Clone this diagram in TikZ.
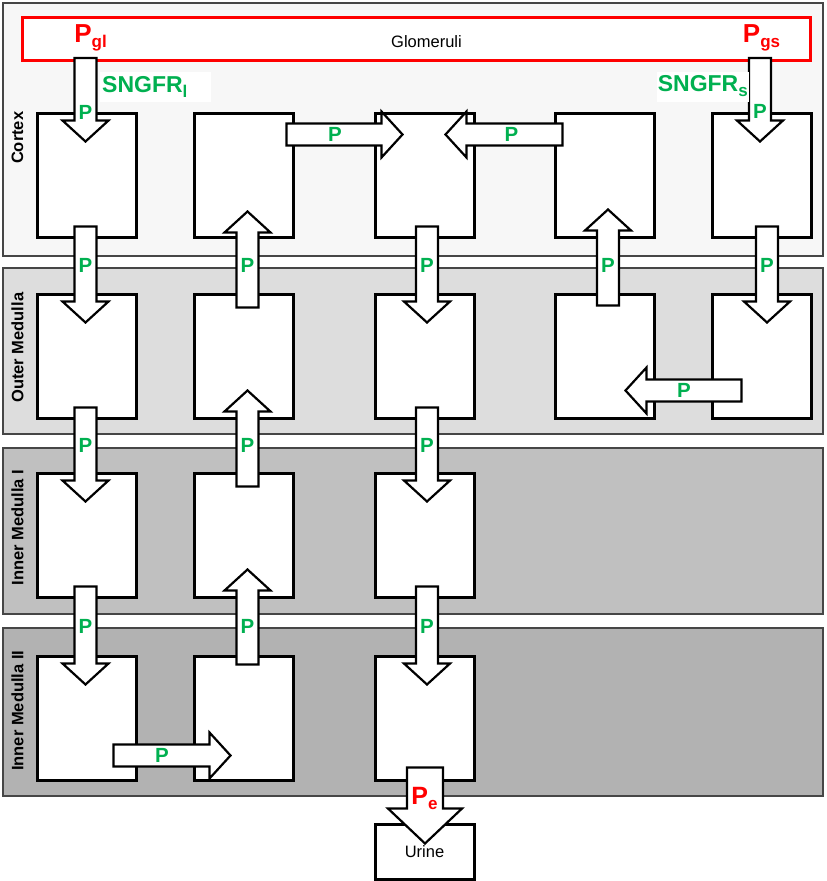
\documentclass[tikz,border=0pt]{standalone}
\usepackage{fontspec}
\setmainfont{Liberation Sans}
\usepackage{xcolor}
\usetikzlibrary{positioning, calc}

\definecolor{pgreen}{RGB}{0,176,80}
\definecolor{bandline}{RGB}{70,70,70}
\definecolor{cortexfill}{RGB}{247,247,247}
\definecolor{outerfill}{RGB}{221,221,221}
\definecolor{innerfill}{RGB}{192,192,192}
\definecolor{deepfill}{RGB}{178,178,178}

\newcommand{\lsub}[1]{\raisebox{-5pt}{\fontsize{17}{17}\selectfont #1}}

% hollow block arrow: from, tip, shaft half width, head half width, head length
\newcommand{\blockarrow}[5]{%
  \draw[flow] let \p1=(#1), \p2=(#2),
      \n1={atan2(\y2-\y1,\x2-\x1)}, \n2={veclen(\x2-\x1,\y2-\y1)-#5pt} in
    ($(\p1)+(\n1+90:#3pt)$) -- ($(\p1)+(\n1:\n2)+(\n1+90:#3pt)$)
    -- ($(\p1)+(\n1:\n2)+(\n1+90:#4pt)$) -- (\p2)
    -- ($(\p1)+(\n1:\n2)+(\n1-90:#4pt)$) -- ($(\p1)+(\n1:\n2)+(\n1-90:#3pt)$)
    -- ($(\p1)+(\n1-90:#3pt)$) -- cycle;}
\newcommand{\parrow}[2]{\blockarrow{#1}{#2}{11}{23}{21}}

\begin{document}
\begin{tikzpicture}[
    x=1pt, y=-1pt,
    band/.style={draw=bandline, line width=1.5pt},
    zone/.style={rotate=90, anchor=east, inner sep=0,
                 font=\bfseries\fontsize{16.5}{19}\selectfont},
    cell/.style={draw, fill=white, line width=3pt, minimum width=99pt,
                 minimum height=124pt, inner sep=0},
    glombox/.style={draw=red, fill=white, line width=3pt, minimum width=788pt,
                    minimum height=43pt},
    flow/.style={draw=black, fill=white, line width=2.2pt, line join=miter},
    plab/.style={text=pgreen, inner sep=0, font=\bfseries\fontsize{20.5}{23}\selectfont},
    ptext/.style={text=red, inner sep=0, font=\bfseries\fontsize{26}{30}\selectfont},
    sngfr/.style={text=pgreen, fill=white, inner sep=1pt, minimum height=30pt,
                  font=\bfseries\fontsize{23}{26}\selectfont}
]
\fill[white] (0,0) rectangle (827,881);
\useasboundingbox (0,0) rectangle (827,881);

% zones
\draw[band, fill=cortexfill] (3,3) rectangle (823,256);
\draw[band, fill=outerfill] (3,268) rectangle (823,434);
\draw[band, fill=innerfill] (3,448) rectangle (823,614);
\draw[band, fill=deepfill] (3,628) rectangle (823,796);

\node[glombox] (glom) at (416.5,39) {};
\node[font=\fontsize{16.5}{19}\selectfont] (glomtxt) at ($(glom.center)+(10,3)$) {Glomeruli};

% tubule segments
\node[cell] (cx1) at (86.5,175) {};
\node[cell, right=55pt of cx1] (cx2) {};
\node[cell, right=79pt of cx2] (cx3) {};
\node[cell, right=78pt of cx3] (cx4) {};
\node[cell, right=55pt of cx4] (cx5) {};
\node[cell, below=54pt of cx1] (om1) {};
\node[cell, below=54pt of cx2] (om2) {};
\node[cell, below=54pt of cx3] (om3) {};
\node[cell, below=54pt of cx4] (om4) {};
\node[cell, below=54pt of cx5] (om5) {};
\node[cell, below=52pt of om1] (ima1) {};
\node[cell, below=52pt of om2] (ima2) {};
\node[cell, below=52pt of om3] (ima3) {};
\node[cell, below=56pt of ima1] (imb1) {};
\node[cell, below=56pt of ima2] (imb2) {};
\node[cell, below=56pt of ima3] (imb3) {};
\node[cell, minimum height=55pt, below=41pt of imb3, font=\fontsize{16.5}{19}\selectfont]
    (urine) {Urine};

\node[zone] (lcx) at ($(cx1.north west)+(-18,0)$) {Cortex};
\node[zone] (lom) at ($(om1.north west)+(-18,0)$) {Outer Medulla};
\node[zone] (lima) at ($(ima1.north west)+(-18,-2)$) {Inner Medulla I};
\node[zone] (limb) at ($(imb1.north west)+(-18,-4)$) {Inner Medulla II};

% long loop
\parrow{$(cx1.north |- glom.south)+(-1,-4)$}{$(cx1.north)+(-1,30)$}
\parrow{$(cx1.south)+(-1,-12)$}{$(om1.north)+(-1,30)$}
\parrow{$(om1.south)+(-1,-12)$}{$(ima1.north)+(-1,30)$}
\parrow{$(ima1.south)+(-1,-12)$}{$(imb1.north)+(-1,30)$}
\parrow{$(imb1.south east)+(-24,-26)$}{$(imb2.south west)+(38,-26)$}
\parrow{$(imb2.north)+(4,10)$}{$(ima2.south)+(4,-29)$}
\parrow{$(ima2.north)+(4,15)$}{$(om2.south)+(4,-29)$}
\parrow{$(om2.north)+(4,15)$}{$(cx2.south)+(4,-27)$}
\parrow{$(cx2.north east)+(-8,23)$}{$(cx3.north west)+(29,23)$}

% short loop
\parrow{$(cx5.north |- glom.south)+(-1.5,-4)$}{$(cx5.north)+(-1.5,30)$}
\parrow{$(cx5.south)+(5.5,-12)$}{$(om5.north)+(5.5,30)$}
\parrow{$(om5.north west)+(31,98)$}{$(om4.north east)+(-30,98)$}
\parrow{$(om4.north)+(3.5,13)$}{$(cx4.south)+(3.5,-29)$}
\parrow{$(cx4.north west)+(9,23)$}{$(cx3.north east)+(-30,23)$}

% collecting duct
\parrow{$(cx3.south)+(2.5,-12)$}{$(om3.north)+(2.5,30)$}
\parrow{$(om3.south)+(2.5,-12)$}{$(ima3.north)+(2.5,30)$}
\parrow{$(ima3.south)+(2.5,-12)$}{$(imb3.north)+(2.5,30)$}
\blockarrow{$(imb3.south)+(0.5,-14)$}{$(urine.north)+(0.5,21)$}{18}{37}{35}

% labels
\node[plab] (p1) at ($(cx1.north)+(-1,1)$) {P};
\node[plab] (p2) at ($(cx1.south)!.5!(om1.north)+(-1,0)$) {P};
\node[plab] (p3) at ($(om1.south)!.5!(ima1.north)+(-1,0)$) {P};
\node[plab] (p4) at ($(ima1.south)!.5!(imb1.north)+(-1,0)$) {P};
\node[plab] (p5) at ($(imb1.south east)!.5!(imb2.south west)+(-3,-26)$) {P};
\node[plab] (p6) at ($(ima2.south)!.5!(imb2.north)+(4,0)$) {P};
\node[plab] (p7) at ($(om2.south)!.5!(ima2.north)+(4,0)$) {P};
\node[plab] (p8) at ($(cx2.south)!.5!(om2.north)+(4,0)$) {P};
\node[plab] (p9) at ($(cx2.north east)!.5!(cx3.north west)+(1,23)$) {P};
\node[plab] (p10) at ($(cx5.north)+(-1.5,0)$) {P};
\node[plab] (p11) at ($(cx5.south)!.5!(om5.north)+(5.5,0)$) {P};
\node[plab] (p12) at ($(om4.north east)!.5!(om5.north west)+(1,98)$) {P};
\node[plab] (p13) at ($(cx4.south)!.5!(om4.north)+(3.5,0)$) {P};
\node[plab] (p14) at ($(cx3.north east)!.5!(cx4.north west)+(-3,23)$) {P};
\node[plab] (p15) at ($(cx3.south)!.5!(om3.north)+(2.5,0)$) {P};
\node[plab] (p16) at ($(om3.south)!.5!(ima3.north)+(2.5,0)$) {P};
\node[plab] (p17) at ($(ima3.south)!.5!(imb3.north)+(2.5,0)$) {P};

\node[ptext] (pgl) at ($(cx1.north |- glom.center)+(4,-1)$) {P\lsub{gl}};
\node[ptext] (pgs) at ($(cx5.north |- glom.center)+(0,-1)$) {P\lsub{gs}};
\node[ptext, font=\bfseries\fontsize{25}{28}\selectfont] (pe)
    at ($(urine.north)+(0,-24)$) {P\lsub{e}};
\node[sngfr, anchor=west, minimum width=111pt, text width=107pt]
    (sngfrl) at ($(cx1.north)+(13.5,-25)$) {SNGFR\lsub{l}};
\node[sngfr, anchor=east] (sngfrs) at ($(cx5.north)+(-12.5,-25)$) {SNGFR\lsub{s}};
\end{tikzpicture}
\end{document}
